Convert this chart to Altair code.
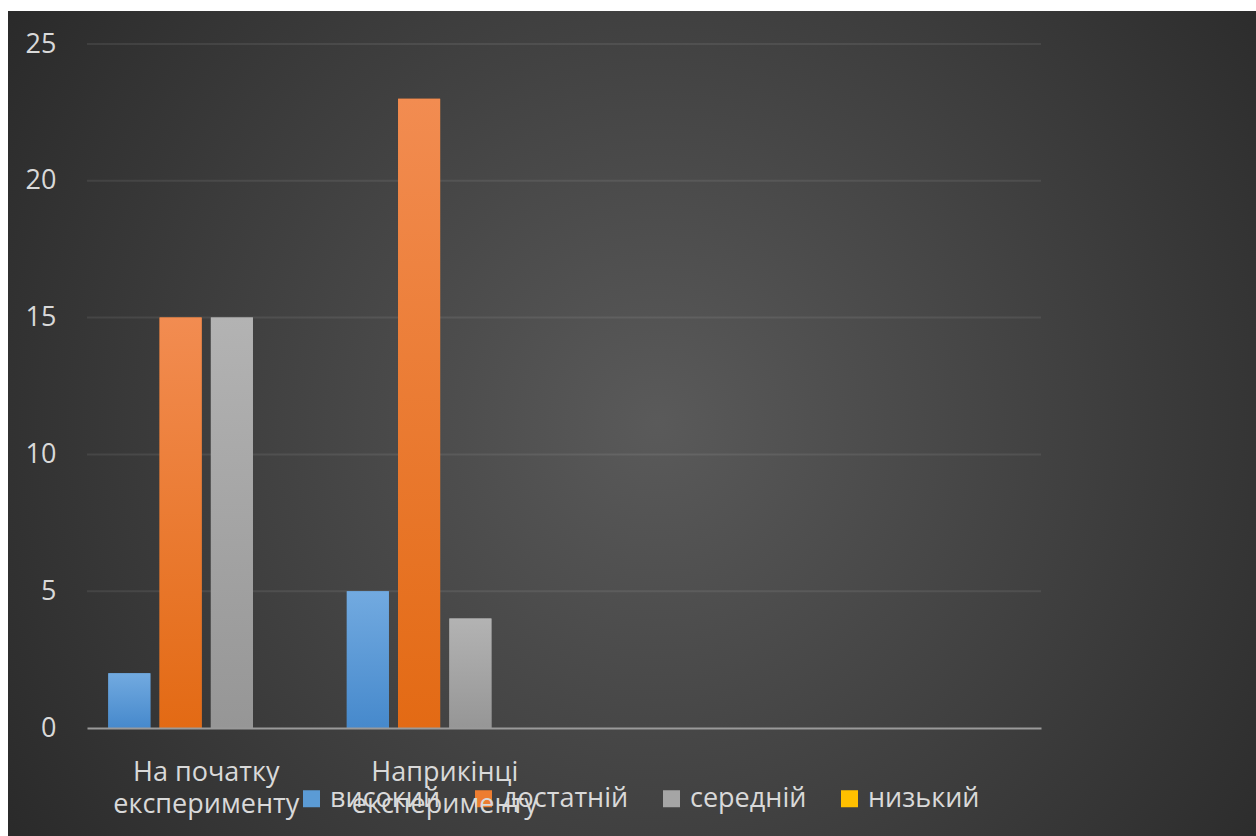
import altair as alt
import pandas as pd

categories = ["На початку експерименту", "Наприкінці експерименту", " ", "  "]
series = ["високий", "достатній", "середній", "низький"]
start_vals = [2, 15, 15, 0]
end_vals = [5, 23, 4, 0]
colors = ["#5b9bd5", "#ed7d31", "#a5a5a5", "#ffc000"]
grad_top = ["#72aae0", "#f28c51", "#b3b3b3", "#ffcc40"]
grad_bottom = ["#4689cc", "#e36a14", "#969696", "#f2b800"]
y_ticks = [0, 5, 10, 15, 20, 25]

rows = []
for cat, vals in zip(categories[:2], [start_vals, end_vals]):
    for s, v in zip(series, vals):
        rows.append({"category": cat, "level": s, "value": v})
df = pd.DataFrame(rows)

FONT = "Open Sans"
TXT = "#d9d9d9"

label_expr = (
    "indexof(datum.label, ' ') > 0 ? "
    "[substring(datum.label, 0, lastindexof(datum.label, ' ')), "
    "substring(datum.label, lastindexof(datum.label, ' ') + 1)] : ''"
)

x_enc = alt.X(
    "category:N",
    sort=categories,
    scale=alt.Scale(domain=categories, paddingInner=0.14, paddingOuter=0.07),
    axis=alt.Axis(
        title=None,
        labelAngle=0,
        labelExpr=label_expr,
        labelFontSize=27,
        labelColor=TXT,
        labelFont=FONT,
        labelBaseline="alphabetic",
        labelPadding=52,
        labelLineHeight=32,
        labelLimit=0,
        ticks=False,
        domainColor="#9a9a9a",
        domainWidth=2,
        grid=False,
        zindex=1,
    ),
)
xoff_enc = alt.XOffset(
    "level:N",
    sort=series,
    scale=alt.Scale(domain=series, paddingInner=0.18, paddingOuter=0.09),
)
y_scale = alt.Scale(domain=[0, 25], nice=False)
y_axis = alt.Axis(
    title=None,
    values=y_ticks,
    labelFontSize=27,
    labelColor=TXT,
    labelFont=FONT,
    labelPadding=31,
    ticks=False,
    domain=False,
    grid=False,
    zindex=1,
)
y_enc = alt.Y("value:Q", scale=y_scale, axis=y_axis)

bg = alt.Chart(pd.DataFrame({"a": [0]})).mark_rect(
    fill=alt.RadialGradient(
        gradient="radial",
        x1=0.52, y1=0.5, r1=0.0,
        x2=0.52, y2=0.5, r2=0.68,
        stops=[
            alt.GradientStop(offset=0, color="#5a5a5a"),
            alt.GradientStop(offset=1, color="#252525"),
        ],
    ),
    clip=False,
).encode(
    x=alt.value(-79), x2=alt.value(1169), y=alt.value(-33), y2=alt.value(792)
)

grid = alt.Chart(pd.DataFrame({"value": y_ticks[1:]})).mark_rule(
    color="#ffffff", opacity=0.08, strokeWidth=2
).encode(y=y_enc)

bars = alt.Chart(df).mark_bar().encode(
    x=x_enc,
    xOffset=xoff_enc,
    y=y_enc,
    color=alt.Color(
        "level:N",
        sort=series,
        scale=alt.Scale(domain=series, range=colors),
        legend=alt.Legend(
            title=None,
            orient="none",
            direction="horizontal",
            legendX=211,
            legendY=741,
            symbolType="square",
            symbolSize=289,
            symbolStrokeWidth=0,
            symbolOpacity=1,
            labelFontSize=27,
            labelFont=FONT,
            labelColor=TXT,
            labelOffset=5,
            columnPadding=29,
            padding=0,
        ),
    ),
)

overlays = []
for s, top, bot in zip(series, grad_top, grad_bottom):
    overlays.append(
        alt.Chart(df)
        .transform_filter(alt.datum.level == s)
        .mark_bar(
            fill=alt.LinearGradient(
                gradient="linear",
                x1=0, y1=0, x2=0, y2=1,
                stops=[
                    alt.GradientStop(offset=0, color=top),
                    alt.GradientStop(offset=1, color=bot),
                ],
            )
        )
        .encode(x=x_enc, xOffset=xoff_enc, y=y_enc)
    )

chart = (
    alt.layer(bg, grid, bars, *overlays)
    .properties(width=954, height=684)
    .configure(background="#ffffff", padding={"left": 8, "top": 11, "right": 0, "bottom": 0}, font=FONT)
    .configure_view(stroke=None)
)

chart.save("out.html", embed_options={"renderer": "svg", "actions": False})
